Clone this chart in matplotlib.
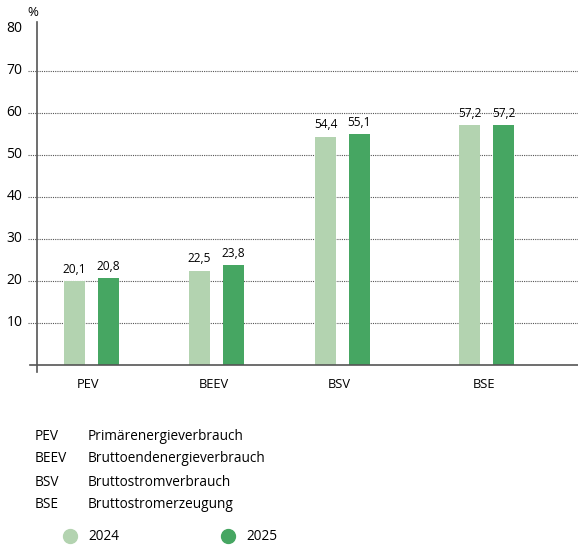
import matplotlib.pyplot as plt
from matplotlib.lines import Line2D

plt.rcParams['font.family'] = ['Open Sans', 'DejaVu Sans']

# data
categories = ['PEV', 'BEEV', 'BSV', 'BSE']
values_2024 = [20.1, 22.5, 54.4, 57.2]
values_2025 = [20.8, 23.8, 55.1, 57.2]
years = ['2024', '2025']
abbrev = ['PEV', 'BEEV', 'BSV', 'BSE']
long_names = ['Primärenergieverbrauch', 'Bruttoendenergieverbrauch',
              'Bruttostromverbrauch', 'Bruttostromerzeugung']
yticks = [10, 20, 30, 40, 50, 60, 70, 80]

c24 = '#b3d3b0'
c25 = '#46a662'

W, H = 578, 549
fig = plt.figure(figsize=(W / 100, H / 100), dpi=100)


def fx(x):
    return x / W


def fy(y):
    return 1 - y / H


ax = fig.add_axes([fx(37), fy(365), 1 - fx(37), fy(29) - fy(365)])
ax.set_xlim(37, 578)
ax.set_ylim(0, 80)

# group centres (pixel-based layout)
centres = [91, 216.5, 342.5, 486.5]
bw, off = 21, 17
ax.bar([c - off for c in centres], values_2024, width=bw, color=c24, zorder=3)
ax.bar([c + off for c in centres], values_2025, width=bw, color=c25, zorder=3)

for c, v in zip(centres, values_2024):
    ax.text(c - off, v + 1.2, f'{v:.1f}'.replace('.', ','), ha='center', va='bottom', fontsize=8.6)
for c, v in zip(centres, values_2025):
    ax.text(c + off, v + 1.2, f'{v:.1f}'.replace('.', ','), ha='center', va='bottom', fontsize=8.6)

# dotted gridlines (none at 80)
for t in yticks[:-1]:
    ax.plot([28, 578], [t, t], ls=(0, (1, 1)), color='#555555', lw=0.8, clip_on=False, zorder=1)

for s in ax.spines.values():
    s.set_visible(False)
ax.set_xticks([])
ax.set_yticks([])

# axis lines
fig.add_artist(Line2D([fx(37), fx(37)], [fy(22), fy(372)], color='#555555', lw=1.2))
fig.add_artist(Line2D([fx(30), fx(578)], [fy(365), fy(365)], color='#555555', lw=1.2))

for t in yticks:
    ax.text(-0.027, t, str(t), transform=ax.get_yaxis_transform(), ha='right', va='center', fontsize=10)
fig.text(fx(33), fy(12), '%', ha='center', va='center', fontsize=9.5)

for c, name in zip(centres, categories):
    fig.text(fx(c - 3), fy(384), name, ha='center', va='center', fontsize=9.3)

# abbreviation key
for i, (a, n) in enumerate(zip(abbrev, long_names)):
    y = 436 + i * 23
    fig.text(fx(35), fy(y), a, ha='left', va='center', fontsize=9.8)
    fig.text(fx(88), fy(y), n, ha='left', va='center', fontsize=9.8)

# year legend
for x, yr, col in zip([70, 228], years, [c24, c25]):
    fig.add_artist(Line2D([fx(x)], [fy(536)], marker='o', markersize=10, color=col, ls=''))
    fig.text(fx(x + 18), fy(536), yr, ha='left', va='center', fontsize=9.8)

fig.savefig('out.png', dpi=100)
